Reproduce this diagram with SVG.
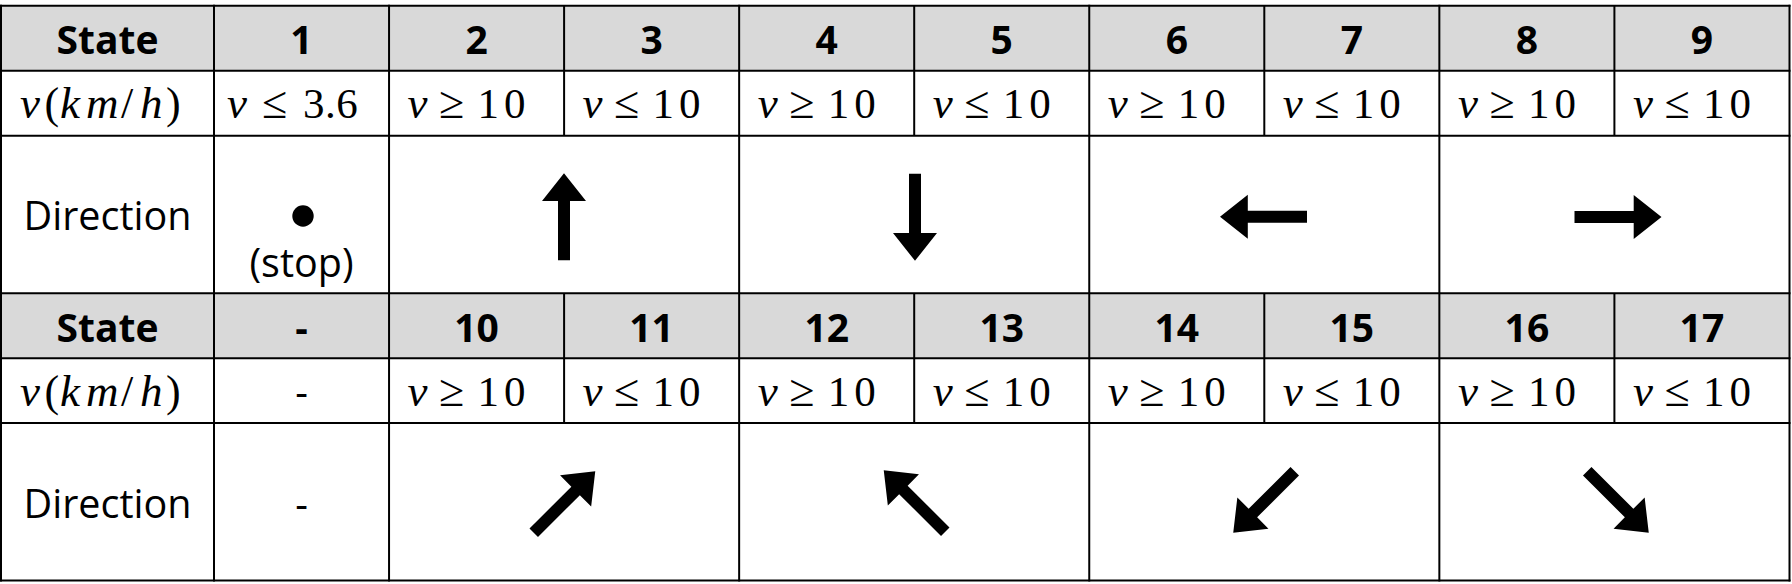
<svg xmlns="http://www.w3.org/2000/svg" xmlns:xlink="http://www.w3.org/1999/xlink" width="1792" height="584" viewBox="0 0 1792 584">
<style>
.hdr{font-family:"Open Sans","Noto Sans",sans-serif;font-weight:700;font-size:39px;fill:#000;text-anchor:middle}
.lbl{font-family:"Open Sans","Noto Sans",sans-serif;font-size:39.5px;fill:#000;text-anchor:middle}
.m{font-family:"Liberation Serif","Times New Roman",serif;font-size:43px;fill:#000}
.i{font-style:italic;font-size:45px}
.p{font-size:44px}
.r{font-size:46px}
.d{letter-spacing:5px}
.ln{stroke:#000;stroke-width:2;fill:none}
.gray{fill:#d9d9d9}
</style>
<defs>
<path id="arr" d="M43.5,0 L15.7,-22 L15.7,-6 L-43.5,-6 L-43.5,6 L15.7,6 L15.7,22 Z" fill="#000"/>
</defs>
<rect x="0" y="0" width="1792" height="584" fill="#fff"/>
<g id="backgrounds">
<rect class="gray" x="1" y="5.7" width="1788.5" height="65"/>
<rect class="gray" x="1" y="293.3" width="1788.5" height="65"/>
</g>
<g id="grid">
<line class="ln" x1="0" y1="5.7" x2="1790.5" y2="5.7"/>
<line class="ln" x1="0" y1="70.7" x2="1790.5" y2="70.7"/>
<line class="ln" x1="0" y1="135.7" x2="1790.5" y2="135.7"/>
<line class="ln" x1="0" y1="293.3" x2="1790.5" y2="293.3"/>
<line class="ln" x1="0" y1="358.3" x2="1790.5" y2="358.3"/>
<line class="ln" x1="0" y1="423" x2="1790.5" y2="423"/>
<line class="ln" x1="0" y1="580.5" x2="1790.5" y2="580.5"/>
<line class="ln" x1="1" y1="4.7" x2="1" y2="581.5"/>
<line class="ln" x1="214" y1="4.7" x2="214" y2="581.5"/>
<line class="ln" x1="389.05" y1="4.7" x2="389.05" y2="581.5"/>
<line class="ln" x1="739.15" y1="4.7" x2="739.15" y2="581.5"/>
<line class="ln" x1="1089.25" y1="4.7" x2="1089.25" y2="581.5"/>
<line class="ln" x1="1439.35" y1="4.7" x2="1439.35" y2="581.5"/>
<line class="ln" x1="1789.5" y1="4.7" x2="1789.5" y2="581.5"/>
<line class="ln" x1="564.1" y1="5.7" x2="564.1" y2="135.7"/>
<line class="ln" x1="914.2" y1="5.7" x2="914.2" y2="135.7"/>
<line class="ln" x1="1264.3" y1="5.7" x2="1264.3" y2="135.7"/>
<line class="ln" x1="1614.4" y1="5.7" x2="1614.4" y2="135.7"/>
<line class="ln" x1="564.1" y1="293.3" x2="564.1" y2="423"/>
<line class="ln" x1="914.2" y1="293.3" x2="914.2" y2="423"/>
<line class="ln" x1="1264.3" y1="293.3" x2="1264.3" y2="423"/>
<line class="ln" x1="1614.4" y1="293.3" x2="1614.4" y2="423"/>
</g>
<g id="connectors"></g>

<!-- Top block -->
<g id="hdr-state-1"><text class="hdr" x="107.5" y="53.7">State</text></g>
<g id="hdr-1"><text class="hdr" x="301.5" y="53.7">1</text></g>
<g id="hdr-2"><text class="hdr" x="476.6" y="53.7">2</text></g>
<g id="hdr-3"><text class="hdr" x="651.6" y="53.7">3</text></g>
<g id="hdr-4"><text class="hdr" x="826.7" y="53.7">4</text></g>
<g id="hdr-5"><text class="hdr" x="1001.7" y="53.7">5</text></g>
<g id="hdr-6"><text class="hdr" x="1176.8" y="53.7">6</text></g>
<g id="hdr-7"><text class="hdr" x="1351.8" y="53.7">7</text></g>
<g id="hdr-8"><text class="hdr" x="1526.9" y="53.7">8</text></g>
<g id="hdr-9"><text class="hdr" x="1701.9" y="53.7">9</text></g>

<g id="v-label-1"><text class="m" y="118.3"><tspan class="i" x="20">v</tspan><tspan class="p" x="44.5">(</tspan><tspan class="i" x="60 86">km</tspan><tspan class="p" x="121">/</tspan><tspan class="i" x="140">h</tspan><tspan class="p" x="166">)</tspan></text></g>
<g id="v-1"><text class="m" y="118.3"><tspan class="i" x="227">v</tspan><tspan class="r" x="262">≤</tspan><tspan x="303" style="letter-spacing:0.5px">3.6</tspan></text></g>
<g id="v-2"><text class="m" y="118.3"><tspan class="i" x="407.6">v</tspan><tspan class="r" x="439.1">≥</tspan><tspan class="d" x="477.6">10</tspan></text></g>
<g id="v-3"><text class="m" y="118.3"><tspan class="i" x="582.6">v</tspan><tspan class="r" x="614.1">≤</tspan><tspan class="d" x="652.6">10</tspan></text></g>
<g id="v-4"><text class="m" y="118.3"><tspan class="i" x="757.7">v</tspan><tspan class="r" x="789.2">≥</tspan><tspan class="d" x="827.7">10</tspan></text></g>
<g id="v-5"><text class="m" y="118.3"><tspan class="i" x="932.7">v</tspan><tspan class="r" x="964.2">≤</tspan><tspan class="d" x="1002.7">10</tspan></text></g>
<g id="v-6"><text class="m" y="118.3"><tspan class="i" x="1107.8">v</tspan><tspan class="r" x="1139.3">≥</tspan><tspan class="d" x="1177.8">10</tspan></text></g>
<g id="v-7"><text class="m" y="118.3"><tspan class="i" x="1282.8">v</tspan><tspan class="r" x="1314.3">≤</tspan><tspan class="d" x="1352.8">10</tspan></text></g>
<g id="v-8"><text class="m" y="118.3"><tspan class="i" x="1457.9">v</tspan><tspan class="r" x="1489.4">≥</tspan><tspan class="d" x="1527.9">10</tspan></text></g>
<g id="v-9"><text class="m" y="118.3"><tspan class="i" x="1632.9">v</tspan><tspan class="r" x="1664.4">≤</tspan><tspan class="d" x="1702.9">10</tspan></text></g>

<g id="dir-label-1"><text class="lbl" x="107.5" y="230">Direction</text></g>
<g id="dir-1"><circle cx="303" cy="216" r="10.7" fill="#000"/><text class="lbl" x="301.5" y="277">(stop)</text></g>
<g id="dir-2-3"><use xlink:href="#arr" href="#arr" transform="translate(564,216.7) rotate(-90)"/></g>
<g id="dir-4-5"><use xlink:href="#arr" href="#arr" transform="translate(915,217.3) rotate(90)"/></g>
<g id="dir-6-7"><use xlink:href="#arr" href="#arr" transform="translate(1263.5,216.8) rotate(180)"/></g>
<g id="dir-8-9"><use xlink:href="#arr" href="#arr" transform="translate(1618,217)"/></g>

<!-- Bottom block -->
<g id="hdr-state-2"><text class="hdr" x="107.5" y="341.5">State</text></g>
<g id="hdr-dash"><text class="hdr" x="301.5" y="341.5">-</text></g>
<g id="hdr-10"><text class="hdr" x="476.6" y="341.5">10</text></g>
<g id="hdr-11"><text class="hdr" x="651.6" y="341.5">11</text></g>
<g id="hdr-12"><text class="hdr" x="826.7" y="341.5">12</text></g>
<g id="hdr-13"><text class="hdr" x="1001.7" y="341.5">13</text></g>
<g id="hdr-14"><text class="hdr" x="1176.8" y="341.5">14</text></g>
<g id="hdr-15"><text class="hdr" x="1351.8" y="341.5">15</text></g>
<g id="hdr-16"><text class="hdr" x="1526.9" y="341.5">16</text></g>
<g id="hdr-17"><text class="hdr" x="1701.9" y="341.5">17</text></g>

<g id="v-label-2"><text class="m" y="406"><tspan class="i" x="20">v</tspan><tspan class="p" x="44.5">(</tspan><tspan class="i" x="60 86">km</tspan><tspan class="p" x="121">/</tspan><tspan class="i" x="140">h</tspan><tspan class="p" x="166">)</tspan></text></g>
<g id="v-dash"><text class="lbl" x="301.5" y="406">-</text></g>
<g id="v-10"><text class="m" y="406"><tspan class="i" x="407.6">v</tspan><tspan class="r" x="439.1">≥</tspan><tspan class="d" x="477.6">10</tspan></text></g>
<g id="v-11"><text class="m" y="406"><tspan class="i" x="582.6">v</tspan><tspan class="r" x="614.1">≤</tspan><tspan class="d" x="652.6">10</tspan></text></g>
<g id="v-12"><text class="m" y="406"><tspan class="i" x="757.7">v</tspan><tspan class="r" x="789.2">≥</tspan><tspan class="d" x="827.7">10</tspan></text></g>
<g id="v-13"><text class="m" y="406"><tspan class="i" x="932.7">v</tspan><tspan class="r" x="964.2">≤</tspan><tspan class="d" x="1002.7">10</tspan></text></g>
<g id="v-14"><text class="m" y="406"><tspan class="i" x="1107.8">v</tspan><tspan class="r" x="1139.3">≥</tspan><tspan class="d" x="1177.8">10</tspan></text></g>
<g id="v-15"><text class="m" y="406"><tspan class="i" x="1282.8">v</tspan><tspan class="r" x="1314.3">≤</tspan><tspan class="d" x="1352.8">10</tspan></text></g>
<g id="v-16"><text class="m" y="406"><tspan class="i" x="1457.9">v</tspan><tspan class="r" x="1489.4">≥</tspan><tspan class="d" x="1527.9">10</tspan></text></g>
<g id="v-17"><text class="m" y="406"><tspan class="i" x="1632.9">v</tspan><tspan class="r" x="1664.4">≤</tspan><tspan class="d" x="1702.9">10</tspan></text></g>

<g id="dir-label-2"><text class="lbl" x="107.5" y="518">Direction</text></g>
<g id="dir-dash"><text class="lbl" x="301.5" y="518">-</text></g>
<g id="dir-10-11"><use xlink:href="#arr" href="#arr" transform="translate(564.5,502) rotate(-45)"/></g>
<g id="dir-12-13"><use xlink:href="#arr" href="#arr" transform="translate(914.5,501) rotate(-135)"/></g>
<g id="dir-14-15"><use xlink:href="#arr" href="#arr" transform="translate(1264,502) rotate(135)"/></g>
<g id="dir-16-17"><use xlink:href="#arr" href="#arr" transform="translate(1618,502) rotate(45)"/></g>
</svg>
